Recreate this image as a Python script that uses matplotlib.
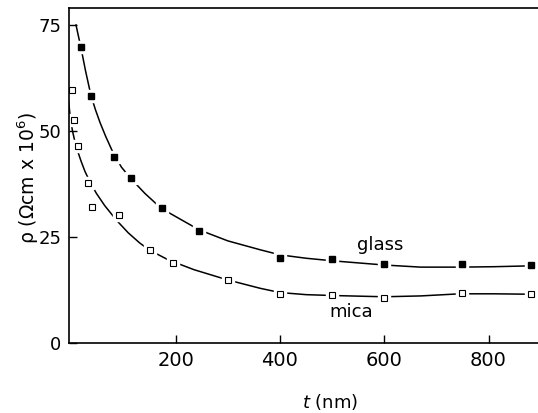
import matplotlib
matplotlib.use("Agg")
import matplotlib.pyplot as plt

# measured points (t in nm, rho in 1e6 ohm cm)
glass_t = [18, 37, 81, 114, 173, 245, 400, 500, 600, 750, 882]
glass_rho = [69.9, 58.1, 43.8, 38.9, 31.7, 26.4, 20.0, 19.7, 18.5, 18.5, 18.2]

mica_t = [2, 4, 12, 31, 40, 91, 150, 194, 300, 400, 500, 600, 750, 882]
mica_rho = [59.6, 52.5, 46.5, 37.6, 32.1, 30.1, 21.8, 18.8, 14.8, 11.4, 11.2, 10.4, 11.8, 11.4]

# fitted curves
glass_fit_t = [8.8, 13, 18, 27, 37, 46, 55, 66, 80, 96, 114, 141, 172, 212, 245,
               300, 362, 400, 450, 500, 550, 600, 670, 745, 810, 880, 910]
glass_fit_rho = [75.0, 72.6, 69.8, 64.2, 58.6, 55.0, 51.9, 48.6, 44.8, 41.4, 38.7, 35.2,
                 31.7, 28.9, 26.6, 24.0, 21.9, 20.7, 19.9, 19.3, 18.8, 18.3, 17.8,
                 17.8, 17.9, 18.1, 18.2]

mica_fit_t = [-6, -2, 2, 6, 12, 18, 26, 36, 48, 64, 87, 109, 131, 150, 186, 235,
              299, 362, 400, 450, 500, 600, 670, 745, 810, 880, 910]
mica_fit_rho = [57.5, 53.0, 50.0, 47.8, 45.2, 43.0, 40.4, 37.8, 35.2, 32.3, 28.8, 25.9,
                23.5, 21.8, 19.5, 17.2, 14.8, 12.8, 11.8, 11.3, 11.1, 10.8, 11.0,
                11.5, 11.5, 11.4, 11.4]

plt.rcParams["font.family"] = ["DejaVu Sans"]

fig = plt.figure(figsize=(5.38, 4.13), dpi=100)
W, H = 538, 413
ax = fig.add_axes([68.5 / W, (H - 342.5) / H, (548 - 68.5) / W, (342.5 - 8) / H])

ax.plot(glass_fit_t, glass_fit_rho, color="black", lw=1.1, zorder=1)
ax.plot(mica_fit_t, mica_fit_rho, color="black", lw=1.1, zorder=1)

# white halo so the curve breaks around each marker
ax.plot(glass_t, glass_rho, "s", ms=9, color="white", mec="white", zorder=2)
ax.plot(mica_t, mica_rho, "s", ms=9, color="white", mec="white", zorder=2)
ax.plot(glass_t, glass_rho, "s", ms=5, color="black", mec="black", zorder=3)
ax.plot(mica_t, mica_rho, "s", ms=5, mfc="white", mec="black", mew=0.8, zorder=3)

ax.text(592, 23.0, "glass", fontsize=13, ha="center", va="center")
ax.text(537, 7.1, "mica", fontsize=13, ha="center", va="center")

ax.set_xlim(-5.6, 914)
ax.set_ylim(0, 79)
ax.set_xticks([200, 400, 600, 800])
ax.set_yticks([0, 25, 50, 75])
ax.tick_params(direction="in", length=6, width=1, labelsize=13, pad=5)
ax.tick_params(axis="x", labelsize=14, pad=6)
ax.spines["right"].set_visible(False)
for s in ["left", "bottom", "top"]:
    ax.spines[s].set_linewidth(1.2)

ax.set_xlabel("$t$ (nm)", fontsize=13)
ax.xaxis.set_label_coords(0.545, -0.148)
ax.set_ylabel("ρ (Ωcm x 10$^6$)", fontsize=13.5, va="center")
ax.yaxis.set_label_coords(-0.084, 0.49)

fig.savefig("out.png", dpi=100)
